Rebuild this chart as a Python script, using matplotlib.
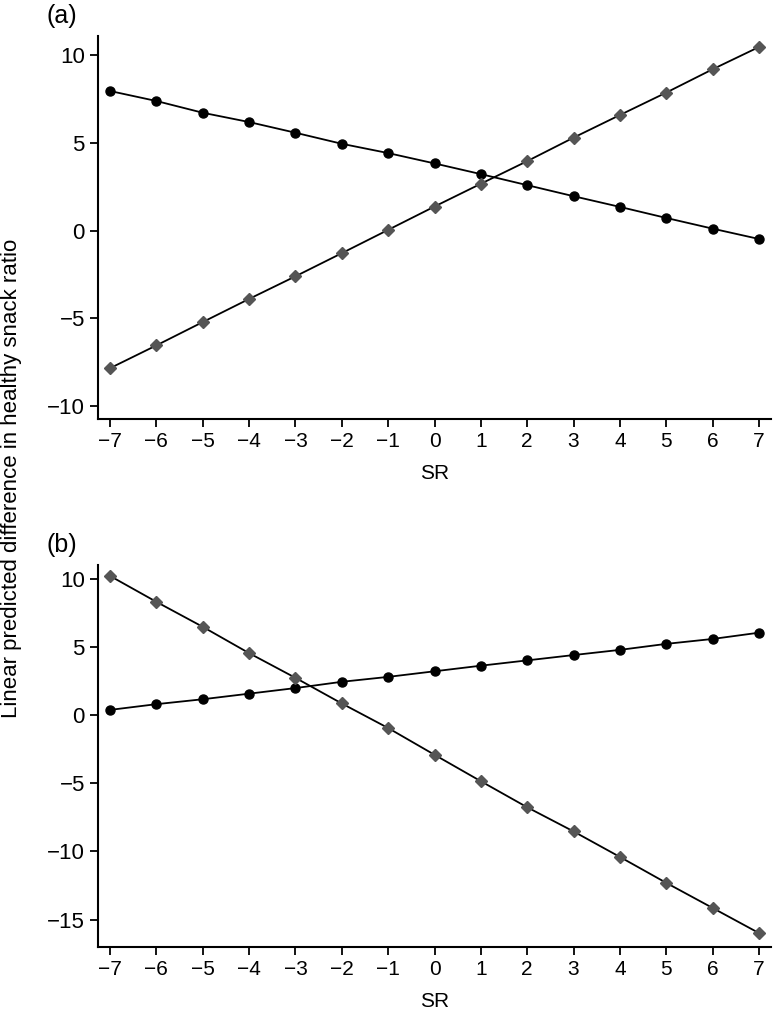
import matplotlib
matplotlib.use("Agg")
import matplotlib.pyplot as plt
import numpy as np

plt.rcParams['font.family'] = ['Liberation Sans', 'DejaVu Sans']

# SR values on the x axis
sr = np.arange(-7, 8)

# panel (a)
a_circle = [7.96, 7.39, 6.72, 6.19, 5.58, 4.95, 4.42, 3.83, 3.22, 2.59, 1.96, 1.35, 0.72, 0.11, -0.48]
a_diamond = [-7.85, -6.55, -5.22, -3.9, -2.61, -1.29, 0.04, 1.37, 2.67, 3.96, 5.30, 6.59, 7.87, 9.2, 10.47]

# panel (b)
b_circle = [0.38, 0.8, 1.16, 1.57, 1.98, 2.44, 2.8, 3.21, 3.62, 4.01, 4.4, 4.78, 5.22, 5.58, 6.04]
b_diamond = [10.2, 8.3, 6.47, 4.54, 2.73, 0.85, -0.95, -2.91, -4.85, -6.76, -8.53, -10.4, -12.3, -14.14, -15.98]

fig = plt.figure(figsize=(7.73, 10.19), dpi=100)
ax_a = fig.add_axes([0.1268, 0.5888, 0.8706, 0.3759])
ax_b = fig.add_axes([0.1268, 0.0707, 0.8706, 0.3748])


def draw_panel(ax, circ, diam, ylim, yticks, tag):
    ax.plot(sr, circ, color='black', lw=1.3, marker='o', ms=6.5,
            mfc='black', mec='black', zorder=3)
    ax.plot(sr, diam, color='black', lw=1.3, marker='D', ms=6.5,
            mfc='#555555', mec='#555555', zorder=3)
    ax.set_xlim(-7.26, 7.26)
    ax.set_ylim(*ylim)
    ax.set_xticks(sr)
    ax.set_yticks(yticks)
    for s in ['top', 'right']:
        ax.spines[s].set_visible(False)
    for s in ['left', 'bottom']:
        ax.spines[s].set_linewidth(1.5)
    ax.tick_params(direction='out', length=6, width=1.3)
    ax.tick_params(axis='x', labelsize=15)
    ax.tick_params(axis='y', labelsize=16)
    ax.set_xlabel('SR', fontsize=15, labelpad=9)
    ax.text(-0.0535, 1.052, tag, transform=ax.transAxes, fontsize=18,
            ha='center', va='center')


draw_panel(ax_a, a_circle, a_diamond, (-10.75, 11.1), [-10, -5, 0, 5, 10], '(a)')
draw_panel(ax_b, b_circle, b_diamond, (-17.0, 11.0), [-15, -10, -5, 0, 5, 10], '(b)')

fig.text(0.0155, 0.531, 'Linear predicted difference in healthy snack ratio',
         rotation=90, ha='center', va='center', fontsize=16)

fig.savefig('out.png', dpi=100)
